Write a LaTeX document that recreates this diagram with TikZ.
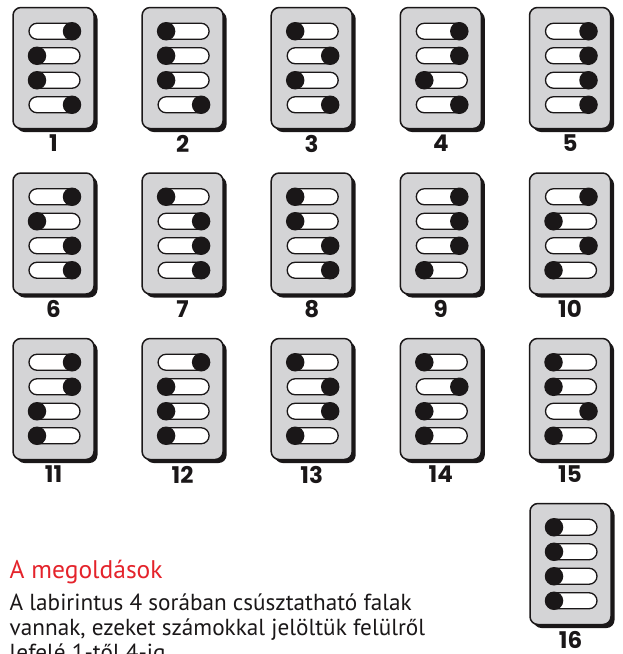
\documentclass[tikz,border=0pt]{standalone}
\usepackage{fontspec}
\setmainfont{PT Sans}
\newfontfamily\numfont{Poppins}
\usetikzlibrary{shadows}
\definecolor{cardgray}{HTML}{D4D4D6}
\definecolor{titlered}{HTML}{E4232B}
\definecolor{inkblack}{HTML}{1A1718}
\tikzset{
  card/.style={draw=inkblack, line width=1.5pt, fill=cardgray, rounded corners=8pt,
    minimum width=81pt, minimum height=121pt, inner sep=0pt,
    drop shadow={shadow xshift=3.5pt, shadow yshift=-3.5pt, opacity=1, fill=inkblack}},
  slot/.style={draw=inkblack, line width=1.3pt, fill=white, rounded corners=8pt,
    minimum width=51pt, minimum height=16pt, inner sep=0pt},
  knob/.style={circle, fill=inkblack, minimum size=18.5pt, inner sep=0pt},
  numlab/.style={font=\numfont\bfseries\fontsize{23}{23}\selectfont, text=inkblack, inner sep=0pt},
  titletext/.style={font=\fontsize{25.5}{25.5}\selectfont, text=titlered, inner sep=0pt, anchor=base west},
  bodytext/.style={font=\fontsize{23.2}{23.2}\selectfont, text=inkblack, inner sep=0pt, anchor=base west}
}
% #1 number, #2 centre x, #3 top y, #4 states (1 = right, -1 = left)
\newcommand\mypanel[4]{%
  \node[card] (p#1) at (#2,#3+60.5) {};
  \node[numlab] (n#1) at (#2,#3+136) {#1};
  \foreach \s [count=\i] in {#4} {
    \pgfmathsetmacro\yy{#3+60.5+(\i-2.5)*24.5}
    \node[slot] (s#1-\i) at (#2+1,\yy) {};
    \node[knob] (k#1-\i) at (#2+1+\s*17.5,\yy) {};
  }%
}
\begin{document}
\begin{tikzpicture}[x=1pt,y=-1pt]
\useasboundingbox (0,0) rectangle (622,654);
% row 1
\mypanel{1}{53.5}{7.5}{1,-1,-1,1}
\mypanel{2}{182.6}{7.5}{-1,-1,-1,1}
\mypanel{3}{311.7}{7.5}{-1,1,-1,1}
\mypanel{4}{440.8}{7.5}{1,1,-1,1}
\mypanel{5}{570}{7.5}{1,1,1,1}
% row 2
\mypanel{6}{53.5}{173}{1,-1,1,1}
\mypanel{7}{182.6}{173}{-1,1,1,1}
\mypanel{8}{311.7}{173}{-1,-1,1,1}
\mypanel{9}{440.8}{173}{1,1,1,-1}
\mypanel{10}{570}{173}{1,-1,1,-1}
% row 3
\mypanel{11}{53.5}{338.5}{1,1,-1,-1}
\mypanel{12}{182.6}{338.5}{1,-1,-1,-1}
\mypanel{13}{311.7}{338.5}{-1,1,1,-1}
\mypanel{14}{440.8}{338.5}{-1,1,-1,-1}
\mypanel{15}{570}{338.5}{-1,-1,1,-1}
% row 4
\mypanel{16}{570.5}{503.5}{-1,-1,-1,-1}
% text
\begin{scope}
\clip (0,0) rectangle (622,654);
\node[titletext] (title) at (9.5,578) {A megoldások};
\node[bodytext] (l1) at (9.5,610) {A labirintus 4 sorában csúsztatható falak};
\node[bodytext] (l2) at (9.5,635) {vannak, ezeket számokkal jelöltük felülről};
\node[bodytext] (l3) at (9.5,660) {lefelé 1-től 4-ig.};
\end{scope}
\end{tikzpicture}
\end{document}
